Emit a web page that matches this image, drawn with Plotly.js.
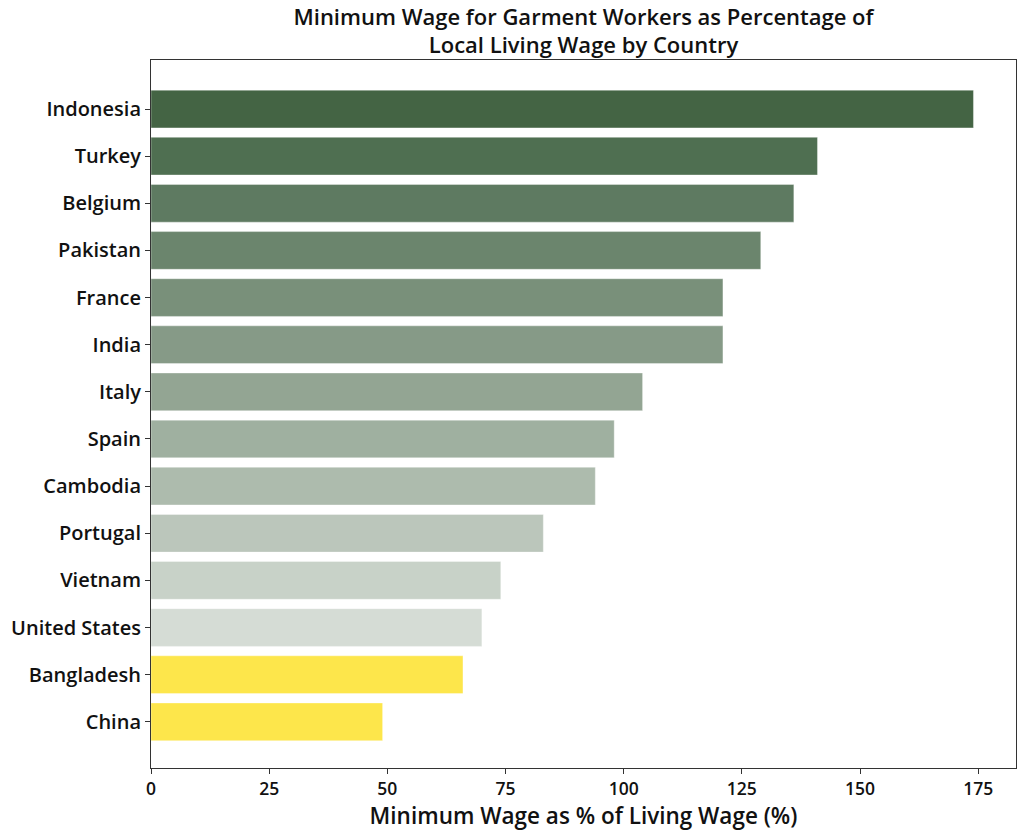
<!DOCTYPE html>
<html>
<head>
<meta charset="utf-8">
<script src="https://cdn.plot.ly/plotly-3.0.1.min.js"></script>
<style>html,body{margin:0;padding:0;background:#fff;}#chart{width:1024px;height:838px;}</style>
</head>
<body>
<div id="chart"></div>
<script>
const countries = ["China","Bangladesh","United States","Vietnam","Portugal","Cambodia","Spain","Italy","India","France","Pakistan","Belgium","Turkey","Indonesia"];
const wagePct = [49, 66, 70, 74, 83, 94, 98, 104, 121, 121, 129, 136, 141, 174];
const barColors = ["#fde64b","#fde64b","#d5dcd5","#c8d2c8","#bbc6bb","#adbbad","#9fb0a0","#93a593","#869a87","#79907a","#6b856d","#5e7a61","#4f6f51","#446444"];
const tickVals = [0, 25, 50, 75, 100, 125, 150, 175];

const FONT = "'Open Sans', Lato, sans-serif";

const trace = {
  type: "bar",
  orientation: "h",
  y: countries,
  x: wagePct,
  width: 0.8,
  marker: {color: barColors, line: {color: "rgba(255,255,255,0.6)", width: 0.6}},
  hoverinfo: "x+y"
};

const layout = {
  width: 1024, height: 838,
  margin: {l: 151, r: 8, t: 60, b: 70},
  paper_bgcolor: "#ffffff", plot_bgcolor: "#ffffff",
  showlegend: false,
  title: {
    text: "Minimum Wage for Garment Workers as Percentage of<br>Local Living Wage by Country",
    font: {family: FONT, size: 22, color: "#111", weight: 600},
    x: 0.5, xref: "paper", xanchor: "center", y: 0.9705, yanchor: "top"
  },
  xaxis: {
    range: [0, 183],
    tickvals: tickVals,
    ticks: "outside", ticklen: 5, tickcolor: "#333", tickwidth: 1,
    showgrid: false, zeroline: false,
    showline: true, linecolor: "#333", linewidth: 1, mirror: true,
    tickfont: {family: FONT, size: 17.5, color: "#111", weight: 600},
    title: {text: "Minimum Wage as % of Living Wage (%)", font: {family: FONT, size: 22.5, color: "#111", weight: 600}, standoff: 5}
  },
  yaxis: {
    type: "category",
    range: [-0.98, 14.04],
    ticks: "outside", ticklen: 5, tickcolor: "#333", tickwidth: 1,
    showgrid: false, zeroline: false,
    showline: true, linecolor: "#333", linewidth: 1, mirror: true,
    tickfont: {family: FONT, size: 20, color: "#111", weight: 600},
    automargin: false
  }
};

Plotly.newPlot("chart", [trace], layout, {displayModeBar: false, staticPlot: true});
</script>
</body>
</html>
